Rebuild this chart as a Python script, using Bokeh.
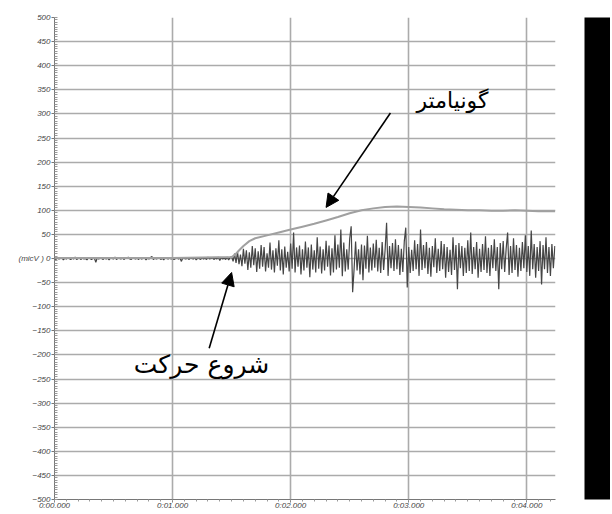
from bokeh.plotting import figure
from bokeh.layouts import row
from bokeh.models import Range1d, FixedTicker, Arrow, NormalHead, Label
from bokeh.embed import file_html
from bokeh.resources import INLINE

# ---- data -------------------------------------------------------------
sample_interval = 0.0125   # seconds between EMG samples
emg_start = 0.0

emg_rest = [1,-2,2,-1,0,2,-3,1,-1,2,0,-2,1,-1,3,-2,0,1,-2,2,
            -1,0,-3,2,1,-2,0,1,-8,2,-1,1,0,-2,2,-1,1,-3,2,0,
            -1,3,-2,1,0,-1,2,-2,1,0,3,-1,-2,2,0,-1,1,-2,2,-1,
            0,2,-3,1,-1,2,4,-2,1,-1,0,2,-2,1,-3,2,0,-1,2,-1,
            1,-2,0,2,-1,1,-6,2,0,-1,2,-2,1,0,-1,2,-3,1,0,-2,
            2,-1,1,-2,3,-1,0,2,-2,1,-1,3,-4,2,-1,1,-2,3,-3,2]

emg_active = [4,-6,10,-9,14,-12,8,-16,20,-11,
              17,-24,13,-19,26,-14,21,-28,15,-21,
              28,-17,24,-27,11,-19,33,-23,17,-29,
              21,-15,38,-25,19,-33,25,-19,14,-27,
              31,-21,54,-29,23,-17,27,-33,19,-25,
              35,-19,23,-39,29,-23,17,-29,44,-21,
              25,-31,19,-25,37,-17,27,-35,21,-29,
              48,-23,29,-19,60,-37,33,-27,19,-23,
              41,67,-70,-21,35,-25,19,-33,29,-45,
              27,-21,47,-29,23,-25,31,-19,39,-27,
              22,-30,34,-24,18,74,-36,26,-20,32,
              -26,40,-22,28,-34,20,-28,36,64,-60,
              24,-30,18,-26,38,-22,30,-36,60,-24,
              28,-20,34,-32,22,-38,26,-18,42,-30,
              20,-26,36,-22,30,-40,24,-28,18,-34,
              44,-24,28,-64,32,-20,26,-36,22,-30,
              38,-26,54,-32,24,-22,34,-40,20,-28,
              30,-24,46,-30,22,-36,28,-20,40,-26,
              24,-64,32,-22,36,-28,20,54,-34,26,
              -30,42,-24,28,-38,22,-26,34,-20,48,
              -28,26,-36,58,-22,30,-40,24,-26,36,
              -54,28,-22,44,-30,24,-36,30,-20,26]

gonio_time = [0, 0.5, 1.0, 1.5, 1.53, 1.56, 1.6, 1.65, 1.7, 1.8, 1.9, 2.0,
              2.1, 2.2, 2.3, 2.4, 2.5, 2.6, 2.7, 2.8, 2.9, 3.0, 3.1, 3.2,
              3.3, 3.4, 3.5, 3.6, 3.7, 3.8, 3.9, 4.0, 4.1, 4.24]
gonio_value = [1, 1, 1, 3, 8, 16, 26, 36, 42, 48, 54, 60,
               66, 72, 79, 86, 94, 100, 104, 107, 108, 107, 106, 104,
               102, 101, 100, 100, 99, 99, 100, 99, 98, 98]

x_ticks = [0, 1, 2, 3, 4]
x_tick_labels = ["0:00.000", "0:01.000", "0:02.000", "0:03.000", "0:04.000"]
y_ticks = list(range(-500, 501, 50))
zero_label = "(micV ) 0"

label_goniometer = "گونیامتر"
label_onset = "شروع حرکت"
arrow_gonio = (2.845, 302, 2.30, 106)    # tail x, tail y, head x, head y
arrow_onset = (1.31, -186, 1.50, -29)
text_gonio_pos = (3.37, 327)
text_onset_pos = (1.245, -220)

# ---- figure -----------------------------------------------------------
emg = emg_rest + emg_active
emg_t = [emg_start + i * sample_interval for i in range(len(emg))]

p = figure(width=584, height=512, output_backend="svg", toolbar_location=None,
           x_range=Range1d(0, 4.243), y_range=Range1d(-500, 500),
           min_border_left=54, min_border_right=29, min_border_top=17,
           min_border_bottom=8)
p.outline_line_color = None
p.background_fill_color = "white"
p.border_fill_color = "white"

grid_color = "#ababab"
p.xgrid.ticker = FixedTicker(ticks=x_ticks)
p.ygrid.ticker = FixedTicker(ticks=y_ticks)
p.grid.grid_line_color = grid_color
p.grid.grid_line_width = 1.6

# x axis
xa = p.xaxis[0]
xa.ticker = FixedTicker(ticks=x_ticks, minor_ticks=[i / 10 for i in range(0, 43)])
xa.major_label_overrides = {t: l for t, l in zip(x_ticks, x_tick_labels)}
xa.major_label_text_font = "Liberation Sans"
xa.major_label_text_font_style = "italic"
xa.major_label_text_font_size = "8px"
xa.major_label_text_color = "#444444"
xa.major_label_standoff = -2
xa.major_tick_out = 3
xa.major_tick_in = 0
xa.minor_tick_out = 2
xa.minor_tick_in = 0
xa.axis_line_color = "#777777"
xa.major_tick_line_color = "#777777"
xa.minor_tick_line_color = "#999999"

# y axis
ya = p.yaxis[0]
ya.ticker = FixedTicker(ticks=y_ticks, minor_ticks=list(range(-500, 501, 5)))
ya.major_label_overrides = {0: zero_label}
ya.major_label_text_font = "Liberation Sans"
ya.major_label_text_font_style = "italic"
ya.major_label_text_font_size = "8px"
ya.major_label_text_color = "#444444"
ya.major_label_standoff = 1
ya.major_tick_out = 3
ya.major_tick_in = 0
ya.minor_tick_out = 0
ya.minor_tick_in = 3
ya.axis_line_color = "#777777"
ya.major_tick_line_color = "#777777"
ya.minor_tick_line_color = "#999999"

# signals
p.line(emg_t, emg, line_color="#454545", line_width=1.2)
p.line(gonio_time, gonio_value, line_color="#a0a0a0", line_width=2)

# annotations
for (x0, y0, x1, y1) in (arrow_gonio, arrow_onset):
    p.add_layout(Arrow(x_start=x0, y_start=y0, x_end=x1, y_end=y1,
                       line_color="black", line_width=1.6,
                       end=NormalHead(size=13, fill_color="black", line_color="black")))

p.add_layout(Label(x=text_gonio_pos[0], y=text_gonio_pos[1], text=label_goniometer,
                   text_font="DejaVu Sans", text_font_size="22px", text_color="black",
                   text_align="center", text_baseline="middle"))
p.add_layout(Label(x=text_onset_pos[0], y=text_onset_pos[1], text=label_onset,
                   text_font="DejaVu Sans", text_font_size="25px", text_color="black",
                   text_align="center", text_baseline="middle"))

# black strip at the right
bar = figure(width=26, height=512, output_backend="svg", toolbar_location=None,
             x_range=Range1d(0, 1), y_range=Range1d(0, 1),
             min_border_left=0, min_border_right=0, min_border_top=13, min_border_bottom=0)
bar.axis.visible = False
bar.grid.visible = False
bar.outline_line_color = None
bar.background_fill_color = "black"
bar.border_fill_color = "white"

layout = row(p, bar, spacing=0)
open("out.html", "w").write(file_html(layout, INLINE))
